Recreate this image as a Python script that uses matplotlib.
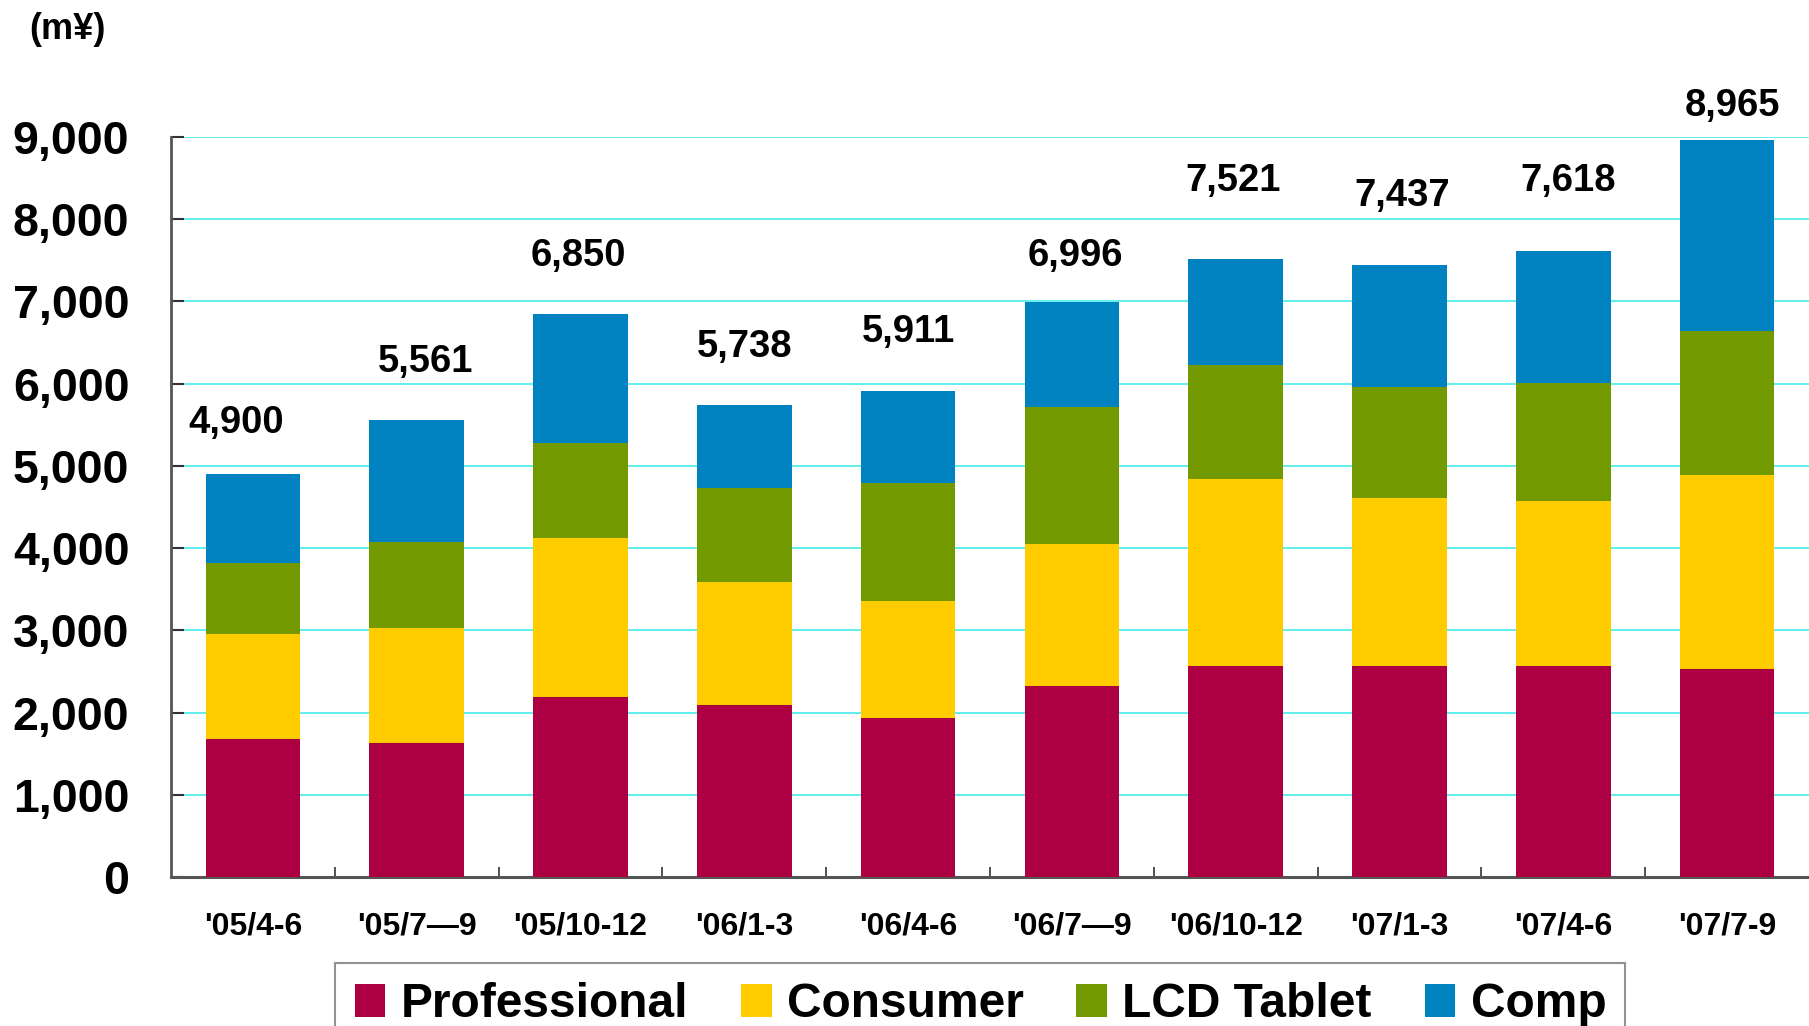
import matplotlib
matplotlib.use("Agg")
import matplotlib.pyplot as plt
from matplotlib.patches import Patch
from matplotlib.ticker import FuncFormatter, FixedLocator
import numpy as np

plt.rcParams['font.family'] = ['Liberation Sans', 'DejaVu Sans']
plt.rcParams['font.weight'] = 'bold'

# quarterly sales (m yen)
quarters = ["'05/4-6", "'05/7\u20149", "'05/10-12", "'06/1-3", "'06/4-6",
            "'06/7\u20149", "'06/10-12", "'07/1-3", "'07/4-6", "'07/7-9"]
professional = [1673, 1625, 2184, 2087, 1940, 2326, 2571, 2571, 2571, 2527]
consumer = [1288, 1409, 1944, 1506, 1413, 1728, 2266, 2043, 2000, 2359]
lcd_tablet = [854, 1045, 1145, 1142, 1435, 1658, 1386, 1343, 1440, 1750]
comp = [1085, 1482, 1577, 1003, 1123, 1284, 1298, 1480, 1607, 2329]
totals = [4900, 5561, 6850, 5738, 5911, 6996, 7521, 7437, 7618, 8965]

series_names = ['Professional', 'Consumer', 'LCD Tablet', 'Comp']
colors = ['#AD0042', '#FFCC00', '#729900', '#0082C0']

# where each total label sits relative to its bar (data units)
label_lift = [624, 706, 706, 711, 720, 560, 947, 848, 850, 414]
label_shift = [-0.1, 0.055, -0.015, 0, 0, 0.02, -0.015, 0.015, 0.03, 0.035]

fig = plt.figure(figsize=(18.09, 10.26), dpi=100)
ax = fig.add_axes([0.0945, 0.1452, 0.9055, 0.7213])

x = np.arange(len(quarters))
bottom = np.zeros(len(quarters))
for vals, col in zip([professional, consumer, lcd_tablet, comp], colors):
    ax.bar(x, vals, width=0.577, bottom=bottom, color=col, linewidth=0, zorder=3)
    bottom += np.array(vals)

for xi, tot, lift, dx in zip(x, totals, label_lift, label_shift):
    ax.text(xi + dx, tot + lift, f"{tot:,}", ha='center', va='center',
            fontsize=27.5, fontweight='bold', clip_on=False)

ax.set_xlim(-0.5, len(quarters) - 0.5)
ax.set_ylim(0, 9000)
ax.set_yticks(np.arange(0, 9001, 1000))
ax.yaxis.set_major_formatter(FuncFormatter(lambda v, p: f"{int(v):,}"))
ax.set_xticks(x)
ax.set_xticklabels(quarters)
ax.xaxis.set_minor_locator(FixedLocator(np.arange(0.5, len(quarters) - 0.5, 1)))

ax.tick_params(axis='y', direction='in', length=9, width=1.5, color='#333333',
               pad=30, labelsize=33.5)
ax.tick_params(axis='x', which='major', length=0, pad=25, labelsize=23)
ax.tick_params(axis='x', which='minor', direction='in', length=7, width=1.2,
               color='#333333')
for lab in ax.get_xticklabels() + ax.get_yticklabels():
    lab.set_fontweight('bold')

ax.grid(axis='y', color='#55EEEE', linewidth=1.3, zorder=0)
ax.set_axisbelow(True)
for s in ['top', 'right']:
    ax.spines[s].set_visible(False)
ax.spines['left'].set_color('#555555')
ax.spines['left'].set_linewidth(2)
ax.spines['bottom'].set_color('#555555')
ax.spines['bottom'].set_linewidth(2.2)

fig.text(0.016, 0.9717, '(m\u00a5)', fontsize=26, fontweight='bold', va='center', ha='left')

handles = [Patch(facecolor=c, edgecolor='none') for c in colors]
leg = fig.legend(handles, series_names, loc='upper center', ncol=4,
                 bbox_to_anchor=(0.542, 0.0614),
                 prop={'weight': 'bold', 'size': 34.5},
                 handlelength=0.64, handleheight=0.68, handletextpad=0.32,
                 columnspacing=1.1, borderpad=0.4, fancybox=False,
                 frameon=True, borderaxespad=0)
leg.get_frame().set_edgecolor('#777777')
leg.get_frame().set_linewidth(1.5)

fig.savefig('out.png', dpi=100)
